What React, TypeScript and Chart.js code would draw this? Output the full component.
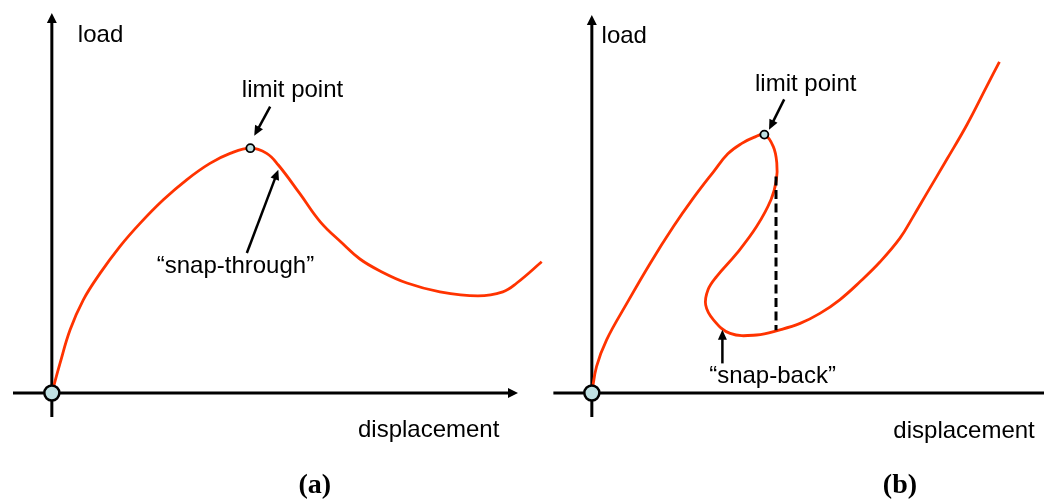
import React, { useEffect, useRef } from "react";
import { Chart, registerables } from "chart.js";

Chart.register(...registerables);

type P = { x: number; y: number };
type Arrow = { from: P; to: P };
type Label = { text: string; x: number; y: number; align?: CanvasTextAlign; bold?: boolean };

// ---------- Panel (a): snap-through ----------
const curveA: P[] = [
  { x: 0, y: 0 },
  { x: 0.21, y: 0.74 },
  { x: 0.47, y: 1.58 },
  { x: 0.81, y: 2.33 },
  { x: 1.24, y: 2.99 },
  { x: 1.75, y: 3.66 },
  { x: 2.27, y: 4.24 },
  { x: 2.87, y: 4.83 },
  { x: 3.47, y: 5.33 },
  { x: 4.07, y: 5.74 },
  { x: 4.59, y: 5.99 },
  { x: 5.11, y: 6.12 },
  { x: 5.53, y: 5.99 },
  { x: 5.83, y: 5.7 },
  { x: 6.38, y: 4.99 },
  { x: 6.91, y: 4.28 },
  { x: 7.47, y: 3.75 },
  { x: 7.93, y: 3.35 },
  { x: 8.45, y: 3.05 },
  { x: 9.14, y: 2.75 },
  { x: 9.99, y: 2.53 },
  { x: 10.97, y: 2.43 },
  { x: 11.61, y: 2.53 },
  { x: 11.97, y: 2.75 },
  { x: 12.61, y: 3.28 },
];
const markersA: P[] = [
  { x: 0, y: 0 },
  { x: 5.11, y: 6.12 },
];
const arrowsA: Arrow[] = [
  { from: { x: 5.62, y: 7.16 }, to: { x: 5.21, y: 6.43 } },
  { from: { x: 5.02, y: 3.5 }, to: { x: 5.83, y: 5.58 } },
];
const labelsA: Label[] = [
  { text: "load", x: 0.67, y: 8.78 },
  { text: "limit point", x: 4.89, y: 7.4 },
  { text: "\u201Csnap-through\u201D", x: 2.7, y: 3.0 },
  { text: "displacement", x: 7.88, y: -1.1 },
  { text: "(a)", x: 6.77, y: -2.5, align: "center", bold: true },
];

// ---------- Panel (b): snap-back ----------
const curveB: P[] = [
  { x: 0, y: 0 },
  { x: 0.12, y: 0.66 },
  { x: 0.38, y: 1.33 },
  { x: 0.9, y: 2.24 },
  { x: 1.5, y: 3.24 },
  { x: 2.1, y: 4.16 },
  { x: 2.61, y: 4.87 },
  { x: 3.13, y: 5.53 },
  { x: 3.5, y: 5.98 },
  { x: 3.86, y: 6.24 },
  { x: 4.17, y: 6.39 },
  { x: 4.44, y: 6.46 },
  { x: 4.67, y: 6.16 },
  { x: 4.76, y: 5.75 },
  { x: 4.75, y: 5.33 },
  { x: 4.61, y: 4.83 },
  { x: 4.24, y: 4.16 },
  { x: 3.73, y: 3.49 },
  { x: 3.21, y: 2.91 },
  { x: 2.99, y: 2.58 },
  { x: 2.93, y: 2.2 },
  { x: 3.13, y: 1.83 },
  { x: 3.56, y: 1.49 },
  { x: 4.24, y: 1.45 },
  { x: 4.84, y: 1.58 },
  { x: 5.36, y: 1.74 },
  { x: 5.87, y: 1.99 },
  { x: 6.38, y: 2.33 },
  { x: 6.9, y: 2.78 },
  { x: 7.42, y: 3.28 },
  { x: 7.93, y: 3.87 },
  { x: 8.27, y: 4.41 },
  { x: 8.62, y: 4.99 },
  { x: 9.13, y: 5.83 },
  { x: 9.65, y: 6.7 },
  { x: 10.16, y: 7.66 },
  { x: 10.49, y: 8.28 },
];
const markersB: P[] = [
  { x: 0, y: 0 },
  { x: 4.44, y: 6.46 },
];
const dashedB: P[] = [
  { x: 4.74, y: 5.41 },
  { x: 4.74, y: 1.57 },
];
const arrowsB: Arrow[] = [
  { from: { x: 4.95, y: 7.34 }, to: { x: 4.56, y: 6.58 } },
  { from: { x: 3.36, y: 0.74 }, to: { x: 3.36, y: 1.58 } },
];
const labelsB: Label[] = [
  { text: "load", x: 0.25, y: 8.74 },
  { text: "limit point", x: 4.2, y: 7.54 },
  { text: "\u201Csnap-back\u201D", x: 3.02, y: 0.24 },
  { text: "displacement", x: 7.76, y: -1.13 },
  { text: "(b)", x: 7.93, y: -2.5, align: "center", bold: true },
];

const RED = "#ff3300";
const MARKER_FILL = "#bfe0e2";
const SANS = '"Liberation Sans", Arial, sans-serif';
const SERIF = '"Liberation Serif", "Times New Roman", serif';

type PanelCfg = {
  left: number;
  width: number;
  padding: { left: number; right: number; top: number; bottom: number };
  xMin: number;
  xMax: number;
  yMin: number;
  yMax: number;
  xAxis: [number, number];
  yAxis: [number, number];
  curve: P[];
  markers: P[];
  markerRadii: number[];
  dashed?: P[];
  arrows: Arrow[];
  labels: Label[];
  xArrowHead: boolean;
};

function arrowHead(ctx: CanvasRenderingContext2D, x1: number, y1: number, x2: number, y2: number, len: number, half: number) {
  const a = Math.atan2(y2 - y1, x2 - x1);
  const c = Math.cos(a), s = Math.sin(a);
  ctx.beginPath();
  ctx.moveTo(x2, y2);
  ctx.lineTo(x2 - len * c + half * s, y2 - len * s - half * c);
  ctx.lineTo(x2 - len * c - half * s, y2 - len * s + half * c);
  ctx.closePath();
  ctx.fill();
}

function shaft(ctx: CanvasRenderingContext2D, x1: number, y1: number, x2: number, y2: number, back: number) {
  const a = Math.atan2(y2 - y1, x2 - x1);
  ctx.beginPath();
  ctx.moveTo(x1, y1);
  ctx.lineTo(x2 - back * Math.cos(a), y2 - back * Math.sin(a));
  ctx.stroke();
}

function makePlugin(cfg: PanelCfg) {
  return {
    id: "diagram",
    beforeDatasetsDraw(chart: any) {
      const { ctx, scales } = chart;
      const xs = scales.x, ys = scales.y;
      const x0 = xs.getPixelForValue(0);
      const y0 = ys.getPixelForValue(0);
      const xa = xs.getPixelForValue(cfg.xAxis[0]);
      const xb = xs.getPixelForValue(cfg.xAxis[1]);
      const ya = ys.getPixelForValue(cfg.yAxis[0]);
      const yb = ys.getPixelForValue(cfg.yAxis[1]);
      ctx.save();
      ctx.strokeStyle = "#000";
      ctx.fillStyle = "#000";
      ctx.lineWidth = 3;
      ctx.lineCap = "butt";
      ctx.beginPath();
      ctx.moveTo(xa, y0);
      ctx.lineTo(cfg.xArrowHead ? xb - 6 : xb, y0);
      ctx.stroke();
      if (cfg.xArrowHead) arrowHead(ctx, xa, y0, xb, y0, 10, 5);
      ctx.beginPath();
      ctx.moveTo(x0, ya);
      ctx.lineTo(x0, yb + 6);
      ctx.stroke();
      arrowHead(ctx, x0, ya, x0, yb, 10, 5);
      ctx.restore();
    },
    afterDatasetsDraw(chart: any) {
      const { ctx, scales } = chart;
      const xs = scales.x, ys = scales.y;
      ctx.save();
      ctx.strokeStyle = "#000";
      ctx.fillStyle = "#000";
      ctx.lineWidth = 2.5;
      for (const ar of cfg.arrows) {
        const x1 = xs.getPixelForValue(ar.from.x), y1 = ys.getPixelForValue(ar.from.y);
        const x2 = xs.getPixelForValue(ar.to.x), y2 = ys.getPixelForValue(ar.to.y);
        shaft(ctx, x1, y1, x2, y2, 6);
        arrowHead(ctx, x1, y1, x2, y2, 10, 4.5);
      }
      ctx.textBaseline = "alphabetic";
      for (const lb of cfg.labels) {
        ctx.font = lb.bold ? `bold 28px ${SERIF}` : `24px ${SANS}`;
        ctx.textAlign = lb.align || "left";
        ctx.fillText(lb.text, xs.getPixelForValue(lb.x), ys.getPixelForValue(lb.y));
      }
      ctx.restore();
    },
  };
}

function Panel({ cfg }: { cfg: PanelCfg }) {
  const ref = useRef<HTMLCanvasElement | null>(null);
  useEffect(() => {
    if (!ref.current) return;
    const datasets: any[] = [
      {
        data: cfg.markers,
        showLine: false,
        pointRadius: cfg.markerRadii,
        pointBackgroundColor: MARKER_FILL,
        pointBorderColor: "#000",
        pointBorderWidth: cfg.markerRadii.map((r) => (r > 5 ? 2.5 : 1.8)),
        order: 0,
        clip: false,
      },
      {
        data: cfg.curve,
        showLine: true,
        borderColor: RED,
        borderWidth: 2.8,
        pointRadius: 0,
        tension: 0.4,
        cubicInterpolationMode: "default",
        fill: false,
        order: 2,
        clip: false,
      },
    ];
    if (cfg.dashed) {
      datasets.push({
        data: cfg.dashed,
        showLine: true,
        borderColor: "#000",
        borderWidth: 3,
        borderDash: [9, 4.5],
        pointRadius: 0,
        tension: 0,
        fill: false,
        order: 1,
        clip: false,
      });
    }
    const chart = new Chart(ref.current, {
      type: "line",
      data: { datasets },
      options: {
        animation: false,
        responsive: false,
        devicePixelRatio: 1,
        events: [],
        layout: { padding: cfg.padding },
        elements: { line: { tension: 0.4, capBezierPoints: false } },
        plugins: { legend: { display: false }, tooltip: { enabled: false } },
        scales: {
          x: { type: "linear", min: cfg.xMin, max: cfg.xMax, display: false },
          y: { type: "linear", min: cfg.yMin, max: cfg.yMax, display: false },
        },
      },
      plugins: [makePlugin(cfg) as any],
    });
    return () => chart.destroy();
  }, [cfg]);
  return (
    <canvas
      ref={ref}
      width={cfg.width}
      height={502}
      style={{ position: "absolute", left: cfg.left, top: 0, width: cfg.width, height: 502 }}
    />
  );
}

const panelA: PanelCfg = {
  left: 0,
  width: 548,
  padding: { left: 13, right: 30, top: 13, bottom: 85 },
  xMin: -1,
  xMax: 12,
  yMin: -0.6,
  yMax: 9.5,
  xAxis: [-1, 12],
  yAxis: [-0.6, 9.5],
  curve: curveA,
  markers: markersA,
  markerRadii: [7.5, 4],
  arrows: arrowsA,
  labels: labelsA,
  xArrowHead: true,
};

const panelB: PanelCfg = {
  left: 548,
  width: 510,
  padding: { left: 10, right: 10, top: 15, bottom: 85 },
  xMin: -0.871,
  xMax: 11.74,
  yMin: -0.6,
  yMax: 9.45,
  xAxis: [-0.99, 12.2],
  yAxis: [-0.6, 9.45],
  curve: curveB,
  markers: markersB,
  markerRadii: [7.5, 4],
  dashed: dashedB,
  arrows: arrowsB,
  labels: labelsB,
  xArrowHead: false,
};

export default function App() {
  return (
    <div style={{ position: "fixed", left: 0, top: 0, width: 1044, height: 502, background: "#fff", overflow: "hidden" }}>
      <Panel cfg={panelA} />
      <Panel cfg={panelB} />
    </div>
  );
}
